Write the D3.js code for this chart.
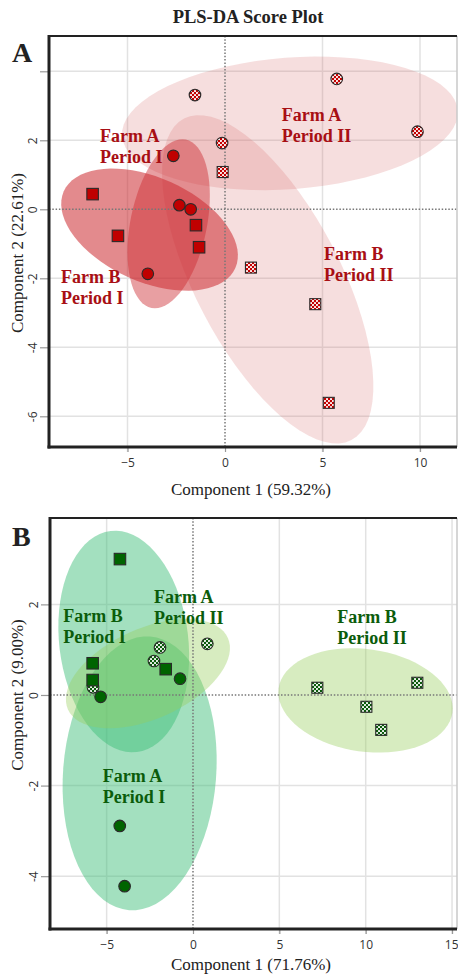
<!DOCTYPE html>
<html>
<head>
<meta charset="utf-8">
<script src="https://cdn.jsdelivr.net/npm/d3@7"></script>
<style>
  body { margin: 0; background: #fff; }
  svg { display: block; }
</style>
</head>
<body>
<svg id="chart" width="458" height="975"></svg>
<script>
// groups, in the same order in every list below
var groups = ["Farm A Period I", "Farm A Period II", "Farm B Period I", "Farm B Period II"];
var groupShape = ["circle", "circle", "square", "square"];
var groupHatched = [false, true, false, true];

// panel A scores (component 1, component 2)
var aFarmAPeriodI  = [[-2.65, 1.55], [-2.34, 0.12], [-1.76, 0.00], [-3.96, -1.87]];
var aFarmAPeriodII = [[-1.54, 3.31], [5.73, 3.78], [9.87, 2.25], [-0.15, 1.92]];
var aFarmBPeriodI  = [[-6.79, 0.44], [-5.49, -0.77], [-1.49, -0.46], [-1.33, -1.10]];
var aFarmBPeriodII = [[-0.12, 1.08], [1.33, -1.69], [4.63, -2.75], [5.32, -5.61]];

// panel A confidence ellipses: centre and two semi-axis vectors (data units)
var aEllCentre = [[-2.89, -0.42], [3.33, 2.49], [-3.87, -0.59], [2.19, -2.03]];
var aEllAxis1  = [[0.88, 2.44], [8.61, 0.37], [4.40, -1.11], [4.29, -4.66]];
var aEllAxis2  = [[1.92, -0.22], [0.25, -1.90], [-1.08, -1.38], [-3.31, -0.97]];

// panel B scores
var bFarmAPeriodI  = [[-0.75, 0.36], [-5.35, -0.04], [-4.24, -2.89], [-3.96, -4.22]];
var bFarmAPeriodII = [[-1.91, 1.05], [-2.26, 0.75], [-5.79, 0.17], [0.83, 1.13]];
var bFarmBPeriodI  = [[-4.23, 3.00], [-5.81, 0.70], [-5.81, 0.33], [-1.58, 0.57]];
var bFarmBPeriodII = [[7.20, 0.16], [12.99, 0.27], [10.04, -0.26], [10.90, -0.77]];

var bEllCentre = [[-3.09, -1.73], [-2.61, 0.47], [-4.01, 1.18], [9.99, -0.12]];
var bEllAxis1  = [[-0.61, -3.02], [4.63, 0.79], [0.76, -2.44], [5.03, -0.27]];
var bEllAxis2  = [[-4.42, 0.13], [1.06, -0.91], [-3.71, -0.17], [-0.41, -1.12]];

// axes
var aXTicks = [-5, 0, 5, 10];
var aYTicks = [-6, -4, -2, 0, 2, 4];
var aYTickLabels = ["-6", "-4", "-2", "0", "2", ""];
var bXTicks = [-5, 0, 5, 10, 15];
var bYTicks = [-4, -2, 0, 2];
var bYTickLabels = ["-4", "-2", "0", "2"];

var svg = d3.select("#chart");
var serif = "'Liberation Serif', 'Times New Roman', serif";
var sans = "'Open Sans', 'DejaVu Sans', sans-serif";

// title
svg.append("text")
    .attr("x", 248).attr("y", 23)
    .attr("text-anchor", "middle")
    .style("font-family", serif).style("font-weight", "bold").style("font-size", "18.5px")
    .attr("fill", "#222")
    .text("PLS-DA Score Plot");

// hatched fill patterns
var defs = svg.append("defs");
function addPattern(id, colour) {
    var p = defs.append("pattern")
        .attr("id", id)
        .attr("patternUnits", "userSpaceOnUse")
        .attr("width", 4).attr("height", 4);
    p.append("rect").attr("width", 4).attr("height", 4).attr("fill", colour);
    p.append("circle").attr("cx", 1).attr("cy", 1).attr("r", 1.05).attr("fill", "#fff");
    p.append("circle").attr("cx", 3).attr("cy", 3).attr("r", 1.05).attr("fill", "#fff");
}
addPattern("hatchRed", "#c40000");
addPattern("hatchGreen", "#0a5a0a");

function drawPanel(cfg) {
    var x = d3.scaleLinear().domain(cfg.xDomain).range([cfg.left, cfg.right]);
    var y = d3.scaleLinear().domain(cfg.yDomain).range([cfg.top, cfg.bottom]);
    var g = svg.append("g");

    // clip for the ellipses
    defs.append("clipPath").attr("id", cfg.id + "clip")
      .append("rect")
        .attr("x", cfg.left).attr("y", cfg.top)
        .attr("width", cfg.right - cfg.left).attr("height", cfg.bottom - cfg.top);

    // grid
    g.append("g").selectAll("line")
        .data(cfg.xTicks.filter(function(d) { return d !== 0; }))
        .enter().append("line")
        .attr("x1", function(d) { return x(d); }).attr("x2", function(d) { return x(d); })
        .attr("y1", cfg.top).attr("y2", cfg.bottom + 5)
        .attr("stroke", "#e2e2e2").attr("stroke-width", 1.5);
    g.append("g").selectAll("line")
        .data(cfg.yTicks.filter(function(d) { return d !== 0; }))
        .enter().append("line")
        .attr("x1", cfg.left).attr("x2", cfg.right)
        .attr("y1", function(d) { return y(d); }).attr("y2", function(d) { return y(d); })
        .attr("stroke", "#e2e2e2").attr("stroke-width", 1.5);

    // ellipses
    var steps = d3.range(0, 73).map(function(i) { return i / 72 * 2 * Math.PI; });
    var line = d3.line().curve(d3.curveLinearClosed);
    g.append("g").attr("clip-path", "url(#" + cfg.id + "clip)")
      .selectAll("path")
        .data(cfg.ellOrder)
        .enter().append("path")
        .attr("d", function(k) {
            var c = cfg.ellCentre[k], u = cfg.ellAxis1[k], v = cfg.ellAxis2[k];
            return line(steps.map(function(t) {
                return [x(c[0] + Math.cos(t) * u[0] + Math.sin(t) * v[0]),
                        y(c[1] + Math.cos(t) * u[1] + Math.sin(t) * v[1])];
            }));
        })
        .attr("fill", function(k) { return cfg.ellFill[k]; })
        .attr("fill-opacity", function(k) { return cfg.ellOpacity[k]; });

    // zero lines
    g.append("line")
        .attr("x1", x(0)).attr("x2", x(0)).attr("y1", cfg.top).attr("y2", cfg.bottom)
        .attr("stroke", "#777").attr("stroke-width", 1.5).attr("stroke-dasharray", "1.5,1.8");
    g.append("line")
        .attr("x1", cfg.left).attr("x2", cfg.right).attr("y1", y(0)).attr("y2", y(0))
        .attr("stroke", "#777").attr("stroke-width", 1.5).attr("stroke-dasharray", "1.5,1.8");

    // points
    cfg.scores.forEach(function(pts, k) {
        var fill = groupHatched[k] ? "url(#" + cfg.hatch + ")" : cfg.pointFill;
        var sel = g.append("g").selectAll(".pt").data(pts).enter();
        if (groupShape[k] === "circle") {
            sel.append("circle")
                .attr("cx", function(d) { return x(d[0]); })
                .attr("cy", function(d) { return y(d[1]); })
                .attr("r", groupHatched[k] ? 5.8 : 5.8)
                .attr("fill", fill)
                .attr("stroke", "#2a2a2a").attr("stroke-width", 1.1);
        } else {
            var s = groupHatched[k] ? 11 : 11.5;
            sel.append("rect")
                .attr("x", function(d) { return x(d[0]) - s / 2; })
                .attr("y", function(d) { return y(d[1]) - s / 2; })
                .attr("width", s).attr("height", s)
                .attr("fill", fill)
                .attr("stroke", "#2a2a2a").attr("stroke-width", 1.1);
        }
    });

    // group labels
    cfg.labels.forEach(function(l) {
        var t = g.append("text")
            .attr("x", x(l.at[0])).attr("y", y(l.at[1]))
            .style("font-family", serif).style("font-weight", "bold").style("font-size", "18px")
            .attr("fill", cfg.labelColour);
        t.append("tspan").attr("x", x(l.at[0])).text(l.lines[0]);
        t.append("tspan").attr("x", x(l.at[0])).attr("dy", 21).text(l.lines[1]);
    });

    // axes
    var xAxis = g.append("g")
        .attr("transform", "translate(0," + cfg.bottom + ")")
        .call(d3.axisBottom(x).tickValues(cfg.xTicks).tickSize(5).tickPadding(6));
    var yAxis = g.append("g")
        .attr("transform", "translate(" + cfg.left + ",0)")
        .call(d3.axisLeft(y).tickValues(cfg.yTicks).tickSize(9)
              .tickFormat(function(d, i) { return cfg.yTickLabels[i]; }));
    [xAxis, yAxis].forEach(function(a) {
        a.select(".domain").remove();
        a.selectAll(".tick line").attr("stroke", "#999").attr("stroke-width", 1.2);
        a.selectAll("text")
            .style("font-family", sans).style("font-size", "12px").attr("fill", "#333");
    });
    // keep the last x label inside the picture
    xAxis.selectAll(".tick text")
        .attr("text-anchor", function(d) { return x(d) > cfg.right - 8 ? "end" : "middle"; })
        .attr("x", function(d) { return x(d) > cfg.right - 8 ? 6 : 0; });
    yAxis.selectAll("text")
        .attr("x", 0).attr("dy", 0)
        .attr("text-anchor", "middle")
        .attr("transform", "translate(-12,0) rotate(-90)");

    // frame
    g.append("line").attr("x1", cfg.right).attr("x2", cfg.right)
        .attr("y1", cfg.top).attr("y2", cfg.bottom)
        .attr("stroke", "#c8c8c8").attr("stroke-width", 1.5);
    g.append("line").attr("x1", cfg.left).attr("x2", cfg.right)
        .attr("y1", cfg.top).attr("y2", cfg.top)
        .attr("stroke", "#222").attr("stroke-width", 2.2);
    g.append("line").attr("x1", cfg.left).attr("x2", cfg.left)
        .attr("y1", cfg.top - 1).attr("y2", cfg.bottom + 1.5)
        .attr("stroke", "#222").attr("stroke-width", 3);
    g.append("line").attr("x1", cfg.left - 1.5).attr("x2", cfg.right)
        .attr("y1", cfg.bottom).attr("y2", cfg.bottom)
        .attr("stroke", "#222").attr("stroke-width", 3);

    // axis titles and panel letter
    g.append("text")
        .attr("x", 251).attr("y", cfg.xTitleY)
        .attr("text-anchor", "middle")
        .style("font-family", serif).style("font-size", "17px").attr("fill", "#222")
        .text(cfg.xTitle);
    g.append("text")
        .attr("transform", "translate(23," + cfg.yTitleMid + ") rotate(-90)")
        .attr("text-anchor", "middle")
        .style("font-family", serif).style("font-size", "17px").attr("fill", "#222")
        .text(cfg.yTitle);
    g.append("text")
        .attr("x", 12).attr("y", cfg.letterY)
        .style("font-family", serif).style("font-weight", "bold").style("font-size", "28px")
        .attr("fill", "#222")
        .text(cfg.letter);
}

drawPanel({
    id: "A", letter: "A", letterY: 62,
    left: 49, right: 457, top: 36, bottom: 447,
    xDomain: [-9.026, 11.897], yDomain: [5.023, -6.89],
    xTicks: aXTicks, yTicks: aYTicks, yTickLabels: aYTickLabels,
    scores: [aFarmAPeriodI, aFarmAPeriodII, aFarmBPeriodI, aFarmBPeriodII],
    ellCentre: aEllCentre, ellAxis1: aEllAxis1, ellAxis2: aEllAxis2,
    ellOrder: [1, 3, 0, 2],
    ellFill: ["#cc2a30", "#d46a6a", "#cc2a30", "#d46a6a"],
    ellOpacity: [0.45, 0.22, 0.55, 0.22],
    pointFill: "#c00000", hatch: "hatchRed", labelColour: "#a80f14",
    labels: [
        { lines: ["Farm A", "Period I"], at: [-6.41, 1.95] },
        { lines: ["Farm A", "Period II"], at: [2.91, 2.56] },
        { lines: ["Farm B", "Period II"], at: [5.08, -1.47] },
        { lines: ["Farm B", "Period I"], at: [-8.41, -2.14] }
    ],
    xTitle: "Component 1 (59.32%)", xTitleY: 495,
    yTitle: "Component 2 (22.61%)", yTitleMid: 253
});

drawPanel({
    id: "B", letter: "B", letterY: 546,
    left: 50, right: 457, top: 518, bottom: 929,
    xDomain: [-8.28, 15.287], yDomain: [3.907, -5.166],
    xTicks: bXTicks, yTicks: bYTicks, yTickLabels: bYTickLabels,
    scores: [bFarmAPeriodI, bFarmAPeriodII, bFarmBPeriodI, bFarmBPeriodII],
    ellCentre: bEllCentre, ellAxis1: bEllAxis1, ellAxis2: bEllAxis2,
    ellOrder: [0, 2, 1, 3],
    ellFill: ["#3cbe78", "#96cd5a", "#3cbe78", "#96cd5a"],
    ellOpacity: [0.47, 0.38, 0.47, 0.38],
    pointFill: "#006400", hatch: "hatchGreen", labelColour: "#0b5c0b",
    labels: [
        { lines: ["Farm B", "Period I"], at: [-7.51, 1.62] },
        { lines: ["Farm A", "Period II"], at: [-2.26, 2.04] },
        { lines: ["Farm B", "Period II"], at: [8.36, 1.58] },
        { lines: ["Farm A", "Period I"], at: [-5.23, -1.91] }
    ],
    xTitle: "Component 1 (71.76%)", xTitleY: 970,
    yTitle: "Component 2 (9.00%)", yTitleMid: 695
});
</script>
</body>
</html>
